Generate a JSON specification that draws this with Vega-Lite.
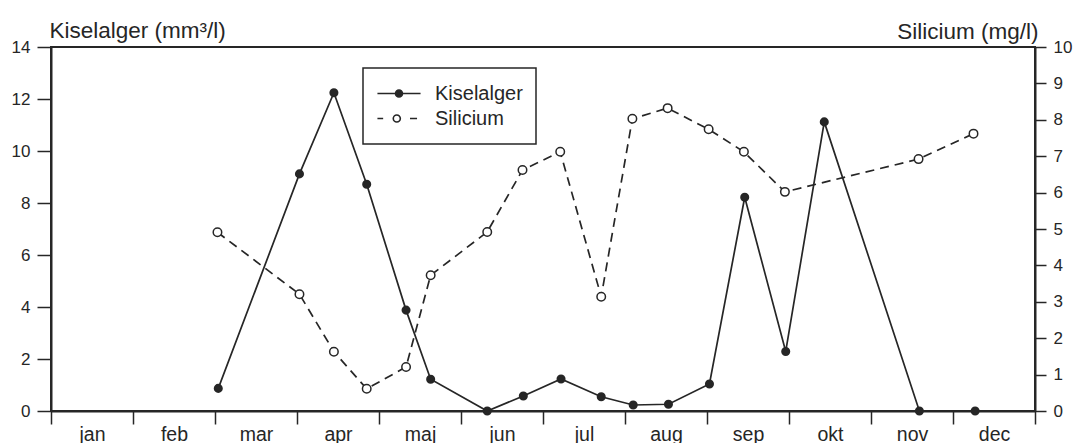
{
  "$schema": "https://vega.github.io/schema/vega-lite/v6.json",
  "autosize": {"type": "none"},
  "width": 984,
  "height": 364,
  "padding": {"left": 51, "top": 47, "right": 38, "bottom": 32},
  "background": "white",
  "data": {"values": [
    {"series": "Kiselalger", "month": 2.04, "value": 0.87},
    {"series": "Kiselalger", "month": 3.03, "value": 9.12},
    {"series": "Kiselalger", "month": 3.45, "value": 12.24},
    {"series": "Kiselalger", "month": 3.85, "value": 8.72},
    {"series": "Kiselalger", "month": 4.33, "value": 3.88},
    {"series": "Kiselalger", "month": 4.63, "value": 1.22},
    {"series": "Kiselalger", "month": 5.32, "value": 0},
    {"series": "Kiselalger", "month": 5.76, "value": 0.58},
    {"series": "Kiselalger", "month": 6.22, "value": 1.23},
    {"series": "Kiselalger", "month": 6.71, "value": 0.55},
    {"series": "Kiselalger", "month": 7.10, "value": 0.23},
    {"series": "Kiselalger", "month": 7.53, "value": 0.26},
    {"series": "Kiselalger", "month": 8.03, "value": 1.04},
    {"series": "Kiselalger", "month": 8.46, "value": 8.22},
    {"series": "Kiselalger", "month": 8.96, "value": 2.29},
    {"series": "Kiselalger", "month": 9.43, "value": 11.12},
    {"series": "Kiselalger", "month": 10.59, "value": 0},
    {"series": "Kiselalger", "month": 11.27, "value": 0},
    {"series": "Silicium", "month": 2.03, "value": 4.91},
    {"series": "Silicium", "month": 3.03, "value": 3.21},
    {"series": "Silicium", "month": 3.45, "value": 1.63},
    {"series": "Silicium", "month": 3.85, "value": 0.61},
    {"series": "Silicium", "month": 4.33, "value": 1.21},
    {"series": "Silicium", "month": 4.63, "value": 3.73},
    {"series": "Silicium", "month": 5.32, "value": 4.92},
    {"series": "Silicium", "month": 5.75, "value": 6.62},
    {"series": "Silicium", "month": 6.21, "value": 7.12},
    {"series": "Silicium", "month": 6.71, "value": 3.14},
    {"series": "Silicium", "month": 7.09, "value": 8.03},
    {"series": "Silicium", "month": 7.52, "value": 8.32},
    {"series": "Silicium", "month": 8.02, "value": 7.74},
    {"series": "Silicium", "month": 8.45, "value": 7.12},
    {"series": "Silicium", "month": 8.95, "value": 6.02},
    {"series": "Silicium", "month": 10.58, "value": 6.92},
    {"series": "Silicium", "month": 11.25, "value": 7.62}
  ]},
  "layer": [
    {
      "transform": [{"filter": "datum.series === 'Kiselalger'"}],
      "encoding": {
        "x": {"field": "month", "type": "quantitative",
          "scale": {"domain": [0, 12], "nice": false, "zero": false},
          "axis": {"values": [0,1,2,3,4,5,6,7,8,9,10,11,12],
            "labelExpr": "datum.value < 12 ? ['jan','feb','mar','apr','maj','jun','jul','aug','sep','okt','nov','dec'][datum.value] : ''",
            "labelOffset": 41, "labelAlign": "center", "tickSize": 13, "labelPadding": 1, "labelFontSize": 19.5,
            "grid": false, "title": null, "labelFlush": false, "labelOverlap": false}},
        "y": {"field": "value", "type": "quantitative",
          "scale": {"domain": [0, 14], "nice": false, "zero": true},
          "axis": {"orient": "left", "values": [0,2,4,6,8,10,12,14], "tickSize": 14, "labelPadding": 7,
            "grid": false, "title": "Kiselalger (mm³/l)", "titleAngle": 0, "titleX": -2, "titleY": -10,
            "titleAlign": "left", "titleBaseline": "alphabetic", "labelFlush": false}}
      },
      "layer": [
        {"mark": {"type": "line", "color": "#262626", "strokeWidth": 1.7}},
        {"mark": {"type": "point", "filled": true, "fill": "#262626", "stroke": "#262626", "size": 50, "opacity": 1, "shape": "circle"}},
        {
          "transform": [{"filter": "datum.value < -1000"}],
          "mark": {"type": "point", "filled": true, "strokeWidth": 1.6, "opacity": 1},
          "encoding": {
            "x": null, "y": null,
            "shape": {"field": "series", "type": "nominal",
              "scale": {"domain": ["Kiselalger", "Silicium"],
                "range": ["M-0.98,0H0.98M0.16,0A0.16,0.16 0 1,1 -0.16,0A0.16,0.16 0 1,1 0.16,0Z",
                          "M-0.98,0H-0.72M0.5,0H0.82M0.06,0A0.16,0.16 0 1,1 -0.26,0A0.16,0.16 0 1,1 0.06,0Z"]},
              "legend": {"title": null, "orient": "none", "legendX": 312, "legendY": 21}},
            "fill": {"field": "series", "type": "nominal",
              "scale": {"domain": ["Kiselalger", "Silicium"], "range": ["#262626", "white"]},
              "legend": {"title": null, "orient": "none", "legendX": 312, "legendY": 21}},
            "stroke": {"field": "series", "type": "nominal",
              "scale": {"domain": ["Kiselalger", "Silicium"], "range": ["#262626", "#262626"]},
              "legend": {"title": null, "orient": "none", "legendX": 312, "legendY": 21}}
          }
        }
      ]
    },
    {
      "transform": [{"filter": "datum.series === 'Silicium'"}],
      "encoding": {
        "x": {"field": "month", "type": "quantitative",
          "scale": {"domain": [0, 12], "nice": false, "zero": false},
          "axis": {"values": [0,1,2,3,4,5,6,7,8,9,10,11,12],
            "labelExpr": "datum.value < 12 ? ['jan','feb','mar','apr','maj','jun','jul','aug','sep','okt','nov','dec'][datum.value] : ''",
            "labelOffset": 41, "labelAlign": "center", "tickSize": 13, "labelPadding": 1, "labelFontSize": 19.5,
            "grid": false, "title": null, "labelFlush": false, "labelOverlap": false}},
        "y": {"field": "value", "type": "quantitative",
          "scale": {"domain": [0, 10], "nice": false, "zero": true},
          "axis": {"orient": "right", "values": [0,1,2,3,4,5,6,7,8,9,10], "tickSize": 11, "labelPadding": 7,
            "grid": false, "title": "Silicium (mg/l)", "titleAngle": 0, "titleX": 3, "titleY": -9,
            "titleAlign": "right", "titleBaseline": "alphabetic", "labelFlush": false}}
      },
      "layer": [
        {"mark": {"type": "line", "color": "#262626", "strokeWidth": 1.7, "strokeDash": [9, 6]}},
        {"mark": {"type": "point", "filled": true, "fill": "white", "stroke": "#262626", "strokeWidth": 1.5, "size": 72, "opacity": 1, "shape": "circle"}}
      ]
    }
  ],
  "resolve": {"scale": {"y": "independent"}},
  "config": {
    "view": {"stroke": "#262626", "strokeWidth": 2},
    "font": "Liberation Sans",
    "axis": {
      "domainColor": "#262626", "domainWidth": 2, "tickColor": "#262626", "tickWidth": 1.5,
      "labelFont": "Liberation Sans", "labelFontSize": 17, "labelColor": "#262626",
      "titleFont": "Liberation Sans", "titleFontSize": 22.5, "titleFontWeight": "normal", "titleColor": "#262626"
    },
    "legend": {
      "padding": 13, "strokeColor": "#262626", "strokeWidth": 1.5, "fillColor": "white",
      "symbolSize": 1936, "symbolStrokeWidth": 1.6,
      "labelFont": "Liberation Sans", "labelFontSize": 20, "labelColor": "#262626",
      "labelOffset": 13, "clipHeight": 25, "rowPadding": 0, "labelExpr": "datum.label + ' '"
    }
  }
}
